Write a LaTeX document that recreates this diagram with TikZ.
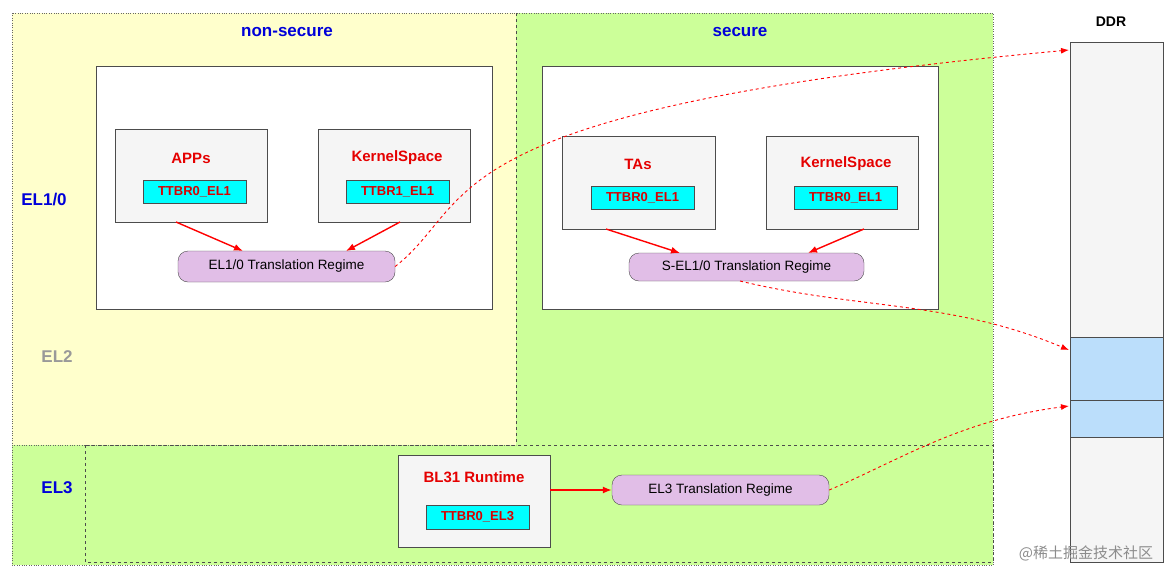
\documentclass[tikz,border=0pt]{standalone}
\usepackage{fontspec}
\usetikzlibrary{arrows.meta}
\setmainfont{Liberation Sans}
\newfontfamily\cjk{Noto Sans CJK SC}
\definecolor{gr}{HTML}{CCFF99}
\definecolor{yl}{HTML}{FFFFCC}
\definecolor{cy}{HTML}{00FFFF}
\definecolor{pu}{HTML}{E1BEE7}
\definecolor{lb}{HTML}{BBDEFB}
\begin{document}
\begin{tikzpicture}[x=1pt,y=-1pt,
  region/.style={draw=gray!80!black,dotted},
  panel/.style={draw=black!70,fill=white,line width=0.6pt},
  comp/.style={draw=black!70,fill=black!4,line width=0.6pt},
  reg/.style={draw=black!70,fill=cy,font=\bfseries\fontsize{13}{15}\selectfont,text=red!85!black},
  regime/.style={draw=black!70,fill=pu,rounded corners=10pt,font=\fontsize{13.5}{16}\selectfont},
  ttl/.style={font=\bfseries\fontsize{17}{20}\selectfont,text=blue!85!black},
  lbl/.style={font=\bfseries\fontsize{15}{18}\selectfont,text=red!90!black},
  arr/.style={red,line width=1.4pt,-{Latex[length=9pt,width=7pt]}},
  darr/.style={red,dashed,line width=0.9pt,-{Latex[length=8pt,width=6pt]}}]
\useasboundingbox (0,0) rectangle (1173,571);
\fill[gr] (12,13) rectangle (993,565);
\fill[yl] (12,13) rectangle (516,445);
\draw[region] (12,13) rectangle (993,565);
\draw[dashed,black!70] (516,13) -- (516,445);
\draw[dotted,black!60] (12,445) -- (516,445);
\draw[dashed,black!70] (85,445) rectangle (993,562);
\node[ttl] (tns) at (287,32) {non-secure};
\node[ttl] (ts) at (740,32) {secure};
\node[ttl] (el10) at (44,200) {EL1/0};
\node[font=\bfseries\fontsize{17}{20}\selectfont,text=black!40] (el2) at (57,357) {EL2};
\node[ttl] (el3) at (57,488) {EL3};
\node[panel,minimum width=396,minimum height=243] (pns) at (294,187.5) {};
\node[panel,minimum width=396,minimum height=243] (ps) at (740,187.5) {};
% non-secure
\node[comp,minimum width=152,minimum height=93] (apps) at (191,175.5) {};
\node[lbl] at (191,158) {APPs};
\node[reg,minimum width=103,minimum height=23,inner sep=0] (t1) at (194.5,191.5) {TTBR0\_EL1};
\node[comp,minimum width=152,minimum height=93] (ks) at (394,175.5) {};
\node[lbl] at (397,158) {KernelSpace};
\node[reg,minimum width=103,minimum height=23,inner sep=0] (t2) at (397.5,191.5) {TTBR1\_EL1};
\node[regime,minimum width=217,minimum height=31,inner sep=0] (rns) at (286.5,266.5) {EL1/0 Translation Regime};
% secure
\node[comp,minimum width=153,minimum height=93] (tas) at (638.5,182.5) {};
\node[lbl] at (638,164) {TAs};
\node[reg,minimum width=103,minimum height=23,inner sep=0] (t3) at (642.5,197.5) {TTBR0\_EL1};
\node[comp,minimum width=152,minimum height=93] (ks2) at (842,182.5) {};
\node[lbl] at (846,164) {KernelSpace};
\node[reg,minimum width=103,minimum height=23,inner sep=0] (t4) at (845.5,197.5) {TTBR0\_EL1};
\node[regime,minimum width=235,minimum height=28,inner sep=0] (rs) at (746.5,267) {S-EL1/0 Translation Regime};
% EL3
\node[comp,minimum width=152,minimum height=92] (bl) at (474,501) {};
\node[lbl] at (474,477) {BL31 Runtime};
\node[reg,minimum width=103,minimum height=24,inner sep=0] (t5) at (477.5,517) {TTBR0\_EL3};
\node[regime,minimum width=217,minimum height=30,inner sep=0] (r3) at (720.5,490) {EL3 Translation Regime};
% DDR
\node[font=\bfseries\fontsize{14}{16}\selectfont] (ddr) at (1111,22) {DDR};
\node[comp,minimum width=93,minimum height=520,inner sep=0] (mem) at (1116.5,302) {};
\node[draw=black!70,fill=lb,minimum width=93,minimum height=63,inner sep=0] (m1) at (1116.5,368.5) {};
\node[draw=black!70,fill=lb,minimum width=93,minimum height=37,inner sep=0] (m2) at (1116.5,418.5) {};
\coordinate (d0) at (1069,50);
\coordinate (d1) at (1069,350);
\coordinate (d2) at (1069,406);
% arrows
\draw[arr] (176,222) -- (243,251);
\draw[arr] (400,222) -- (346,251);
\draw[arr] (606,229) -- (680,253);
\draw[arr] (864,229) -- (808,253);
\draw[arr] (bl.east |- r3.west) -- (r3.west);
\draw[darr] (rns.east) .. controls (480,200) and (420,110) .. (d0);
\draw[darr] (740,281) .. controls (860,310) and (950,300) .. (d1);
\draw[darr] (r3.east) .. controls (900,460) and (960,420) .. (d2);
\node[text=black!45,font=\cjk\fontsize{15}{17}\selectfont] (wm) at (1086,553) {@稀土掘金技术社区};
\end{tikzpicture}
\end{document}
